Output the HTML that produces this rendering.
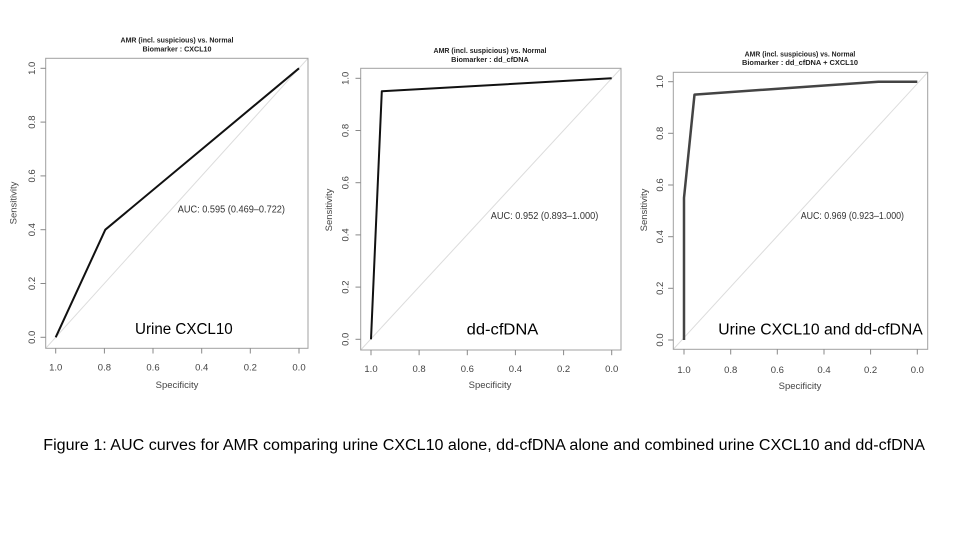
<!DOCTYPE html>
<html><head><meta charset="utf-8"><style>
html,body{margin:0;padding:0;background:#fff;}
svg{display:block;}
text{font-family:"Liberation Sans",Arial,sans-serif;}
</style></head><body>
<svg width="960" height="540" viewBox="0 0 960 540" xmlns="http://www.w3.org/2000/svg">
<rect width="960" height="540" fill="#fff"/>

<!-- Panel 1 -->
<g>
<text x="177" y="42.5" font-size="7" font-weight="bold" text-anchor="middle" fill="#222" textLength="113" lengthAdjust="spacingAndGlyphs">AMR (incl. suspicious) vs. Normal</text>
<text x="177" y="51.5" font-size="7" font-weight="bold" text-anchor="middle" fill="#222" textLength="69" lengthAdjust="spacingAndGlyphs">Biomarker : CXCL10</text>
<line x1="45.7" y1="348.3" x2="308" y2="58.3" stroke="#dcdcdc" stroke-width="1"/>
<rect x="45.7" y="58.3" width="262.3" height="290" fill="none" stroke="#a0a0a0" stroke-width="1"/>
<g stroke="#888" stroke-width="1">
<line x1="55.7" y1="348.3" x2="55.7" y2="353.5"/><line x1="104.4" y1="348.3" x2="104.4" y2="353.5"/><line x1="153" y1="348.3" x2="153" y2="353.5"/><line x1="201.7" y1="348.3" x2="201.7" y2="353.5"/><line x1="250.3" y1="348.3" x2="250.3" y2="353.5"/><line x1="299" y1="348.3" x2="299" y2="353.5"/>
<line x1="45.7" y1="337.3" x2="40.5" y2="337.3"/><line x1="45.7" y1="283.5" x2="40.5" y2="283.5"/><line x1="45.7" y1="229.7" x2="40.5" y2="229.7"/><line x1="45.7" y1="175.9" x2="40.5" y2="175.9"/><line x1="45.7" y1="122.1" x2="40.5" y2="122.1"/><line x1="45.7" y1="68.3" x2="40.5" y2="68.3"/>
</g>
<g font-size="9.5" fill="#444" text-anchor="middle">
<text x="55.7" y="370.5">1.0</text><text x="104.4" y="370.5">0.8</text><text x="153" y="370.5">0.6</text><text x="201.7" y="370.5">0.4</text><text x="250.3" y="370.5">0.2</text><text x="299" y="370.5">0.0</text>
<text transform="translate(35.2,337.3) rotate(-90)">0.0</text><text transform="translate(35.2,283.5) rotate(-90)">0.2</text><text transform="translate(35.2,229.7) rotate(-90)">0.4</text><text transform="translate(35.2,175.9) rotate(-90)">0.6</text><text transform="translate(35.2,122.1) rotate(-90)">0.8</text><text transform="translate(35.2,68.3) rotate(-90)">1.0</text>
<text x="177" y="388">Specificity</text>
<text transform="translate(16.5,203) rotate(-90)">Sensitivity</text>
</g>
<polyline points="55.7,337.3 105.3,229.7 299,68.3" fill="none" stroke="#111" stroke-width="2" stroke-linejoin="round"/>
<text x="177.7" y="212.3" font-size="10" fill="#333" textLength="107.3" lengthAdjust="spacingAndGlyphs">AUC: 0.595 (0.469–0.722)</text>
<text x="135" y="334" font-size="15.5" fill="#000" textLength="97.7" lengthAdjust="spacingAndGlyphs">Urine CXCL10</text>
</g>

<!-- Panel 2 -->
<g>
<text x="490" y="53.2" font-size="7" font-weight="bold" text-anchor="middle" fill="#222" textLength="113" lengthAdjust="spacingAndGlyphs">AMR (incl. suspicious) vs. Normal</text>
<text x="490" y="61.8" font-size="7" font-weight="bold" text-anchor="middle" fill="#222" textLength="77.6" lengthAdjust="spacingAndGlyphs">Biomarker : dd_cfDNA</text>
<line x1="360.7" y1="350" x2="621" y2="68.3" stroke="#dcdcdc" stroke-width="1"/>
<rect x="360.7" y="68.3" width="260.3" height="281.7" fill="none" stroke="#a0a0a0" stroke-width="1"/>
<g stroke="#888" stroke-width="1">
<line x1="371" y1="350" x2="371" y2="355.2"/><line x1="419.1" y1="350" x2="419.1" y2="355.2"/><line x1="467.3" y1="350" x2="467.3" y2="355.2"/><line x1="515.4" y1="350" x2="515.4" y2="355.2"/><line x1="563.6" y1="350" x2="563.6" y2="355.2"/><line x1="611.7" y1="350" x2="611.7" y2="355.2"/>
<line x1="360.7" y1="339.3" x2="355.5" y2="339.3"/><line x1="360.7" y1="287.1" x2="355.5" y2="287.1"/><line x1="360.7" y1="234.9" x2="355.5" y2="234.9"/><line x1="360.7" y1="182.7" x2="355.5" y2="182.7"/><line x1="360.7" y1="130.5" x2="355.5" y2="130.5"/><line x1="360.7" y1="78.3" x2="355.5" y2="78.3"/>
</g>
<g font-size="9.5" fill="#444" text-anchor="middle">
<text x="371" y="371.8">1.0</text><text x="419.1" y="371.8">0.8</text><text x="467.3" y="371.8">0.6</text><text x="515.4" y="371.8">0.4</text><text x="563.6" y="371.8">0.2</text><text x="611.7" y="371.8">0.0</text>
<text transform="translate(348.5,339.3) rotate(-90)">0.0</text><text transform="translate(348.5,287.1) rotate(-90)">0.2</text><text transform="translate(348.5,234.9) rotate(-90)">0.4</text><text transform="translate(348.5,182.7) rotate(-90)">0.6</text><text transform="translate(348.5,130.5) rotate(-90)">0.8</text><text transform="translate(348.5,78.3) rotate(-90)">1.0</text>
<text x="490" y="388">Specificity</text>
<text transform="translate(331.8,210) rotate(-90)">Sensitivity</text>
</g>
<polyline points="371,339.3 381.8,91.3 611.7,78.3" fill="none" stroke="#111" stroke-width="2" stroke-linejoin="round"/>
<text x="490.7" y="219" font-size="10" fill="#333" textLength="107.6" lengthAdjust="spacingAndGlyphs">AUC: 0.952 (0.893–1.000)</text>
<text x="466.7" y="334.3" font-size="15.5" fill="#000" textLength="71.6" lengthAdjust="spacingAndGlyphs">dd-cfDNA</text>
</g>

<!-- Panel 3 -->
<g>
<text x="800" y="56.5" font-size="7" font-weight="bold" text-anchor="middle" fill="#222" textLength="110.7" lengthAdjust="spacingAndGlyphs">AMR (incl. suspicious) vs. Normal</text>
<text x="800" y="65.2" font-size="7" font-weight="bold" text-anchor="middle" fill="#222" textLength="116" lengthAdjust="spacingAndGlyphs">Biomarker : dd_cfDNA + CXCL10</text>
<line x1="673.3" y1="349.3" x2="927.7" y2="72.3" stroke="#dcdcdc" stroke-width="1"/>
<rect x="673.3" y="72.3" width="254.4" height="277" fill="none" stroke="#a0a0a0" stroke-width="1"/>
<g stroke="#888" stroke-width="1">
<line x1="684" y1="349.3" x2="684" y2="354.5"/><line x1="730.7" y1="349.3" x2="730.7" y2="354.5"/><line x1="777.3" y1="349.3" x2="777.3" y2="354.5"/><line x1="824" y1="349.3" x2="824" y2="354.5"/><line x1="870.6" y1="349.3" x2="870.6" y2="354.5"/><line x1="917.3" y1="349.3" x2="917.3" y2="354.5"/>
<line x1="673.3" y1="340" x2="668.1" y2="340"/><line x1="673.3" y1="288.3" x2="668.1" y2="288.3"/><line x1="673.3" y1="236.7" x2="668.1" y2="236.7"/><line x1="673.3" y1="185" x2="668.1" y2="185"/><line x1="673.3" y1="133.3" x2="668.1" y2="133.3"/><line x1="673.3" y1="81.7" x2="668.1" y2="81.7"/>
</g>
<g font-size="9.5" fill="#444" text-anchor="middle">
<text x="684" y="372.8">1.0</text><text x="730.7" y="372.8">0.8</text><text x="777.3" y="372.8">0.6</text><text x="824" y="372.8">0.4</text><text x="870.6" y="372.8">0.2</text><text x="917.3" y="372.8">0.0</text>
<text transform="translate(662.8,340) rotate(-90)">0.0</text><text transform="translate(662.8,288.3) rotate(-90)">0.2</text><text transform="translate(662.8,236.7) rotate(-90)">0.4</text><text transform="translate(662.8,185) rotate(-90)">0.6</text><text transform="translate(662.8,133.3) rotate(-90)">0.8</text><text transform="translate(662.8,81.7) rotate(-90)">1.0</text>
<text x="800" y="389">Specificity</text>
<text transform="translate(646.8,210) rotate(-90)">Sensitivity</text>
</g>
<polyline points="684,340 684,197.9 694.5,94.6 878.4,81.7 917.3,81.7" fill="none" stroke="#444" stroke-width="2.5" stroke-linejoin="round"/>
<text x="800.7" y="219" font-size="10" fill="#333" textLength="103.3" lengthAdjust="spacingAndGlyphs">AUC: 0.969 (0.923–1.000)</text>
<text x="718.3" y="334.3" font-size="15.5" fill="#000" textLength="204.4" lengthAdjust="spacingAndGlyphs">Urine CXCL10 and dd-cfDNA</text>
</g>

<!-- Caption -->
<text x="43.3" y="450" font-size="15.5" fill="#000" textLength="881.7" lengthAdjust="spacingAndGlyphs">Figure 1: AUC curves for AMR comparing urine CXCL10 alone, dd-cfDNA alone and combined urine CXCL10 and dd-cfDNA</text>
</svg>
</body></html>
